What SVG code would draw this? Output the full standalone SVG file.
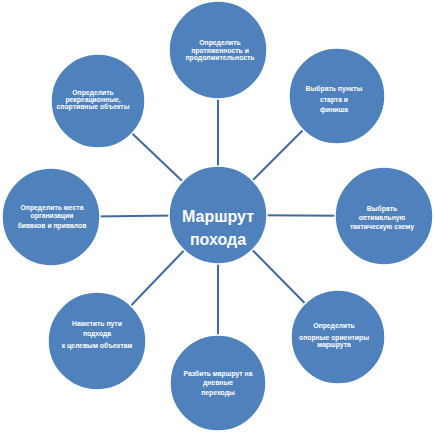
<svg xmlns="http://www.w3.org/2000/svg" width="434" height="434" viewBox="0 0 434 434">
<style>
.n{fill:#4F81BD;stroke:#ffffff;stroke-width:1.5}
.c line{stroke:#41699C;stroke-width:2}
.t{font-family:"Liberation Sans",Arial,sans-serif;font-weight:bold;fill:#ffffff;text-anchor:middle;font-size:6.8px}
.m{font-family:"Liberation Sans",Arial,sans-serif;font-weight:bold;fill:#ffffff;text-anchor:middle;font-size:16px}
</style>
<rect width="434" height="434" fill="#ffffff"/>
<g id="connectors" class="c">
<line x1="218" y1="215" x2="218" y2="50"/>
<line x1="218" y1="215" x2="337" y2="96"/>
<line x1="218" y1="215" x2="98" y2="101"/>
<line x1="218" y1="215" x2="51" y2="217"/>
<line x1="218" y1="215" x2="384" y2="216"/>
<line x1="218" y1="215" x2="97" y2="341"/>
<line x1="218" y1="215" x2="338" y2="337"/>
<line x1="218" y1="215" x2="218" y2="383"/>
</g>
<g id="center">
<circle class="n" cx="218" cy="215" r="49"/>
<text class="m" x="218" y="222">Маршрут</text>
<text class="m" x="218" y="245">похода</text>
</g>
<g id="n-top">
<circle class="n" cx="218" cy="50" r="49"/>
<text class="t" x="220" y="45">Определить</text>
<text class="t" x="220" y="52.5">протяженность и</text>
<text class="t" x="220" y="60">продолжительность</text>
</g>
<g id="n-topright">
<circle class="n" cx="337" cy="96" r="48"/>
<text class="t" x="334" y="90.5">Выбрать пункты</text>
<text class="t" x="334" y="101.5">старта и</text>
<text class="t" x="334" y="111.5">финиша</text>
</g>
<g id="n-topleft">
<circle class="n" cx="98" cy="101" r="47"/>
<text class="t" x="93" y="94.5">Определить</text>
<text class="t" x="93" y="101.5">рекреационные,</text>
<text class="t" x="93" y="109">спортивные объекты</text>
</g>
<g id="n-left">
<circle class="n" cx="51" cy="217" r="49"/>
<text class="t" x="52" y="209.5">Определить места</text>
<text class="t" x="52" y="217.5">организации</text>
<text class="t" x="52" y="227.5">биваков и привалов</text>
</g>
<g id="n-right">
<circle class="n" cx="384" cy="216" r="49"/>
<text class="t" x="382" y="210.5">Выбрать</text>
<text class="t" x="382" y="220">оптимальную</text>
<text class="t" x="382" y="228.5">тактическую схему</text>
</g>
<g id="n-bottomleft">
<circle class="n" cx="97" cy="341" r="49"/>
<text class="t" x="97" y="325.5">Наметить пути</text>
<text class="t" x="97" y="335.5">подхода</text>
<text class="t" x="97" y="347.5">к целевым объектам</text>
</g>
<g id="n-bottomright">
<circle class="n" cx="338" cy="337" r="47"/>
<text class="t" x="334" y="327.5">Определить</text>
<text class="t" x="334" y="339.5">опорные ориентиры</text>
<text class="t" x="334" y="346.5">маршрута</text>
</g>
<g id="n-bottom">
<circle class="n" cx="218" cy="383" r="48"/>
<text class="t" x="218" y="375.5">Разбить маршрут на</text>
<text class="t" x="218" y="385">дневные</text>
<text class="t" x="218" y="394.5">переходы</text>
</g>
</svg>
